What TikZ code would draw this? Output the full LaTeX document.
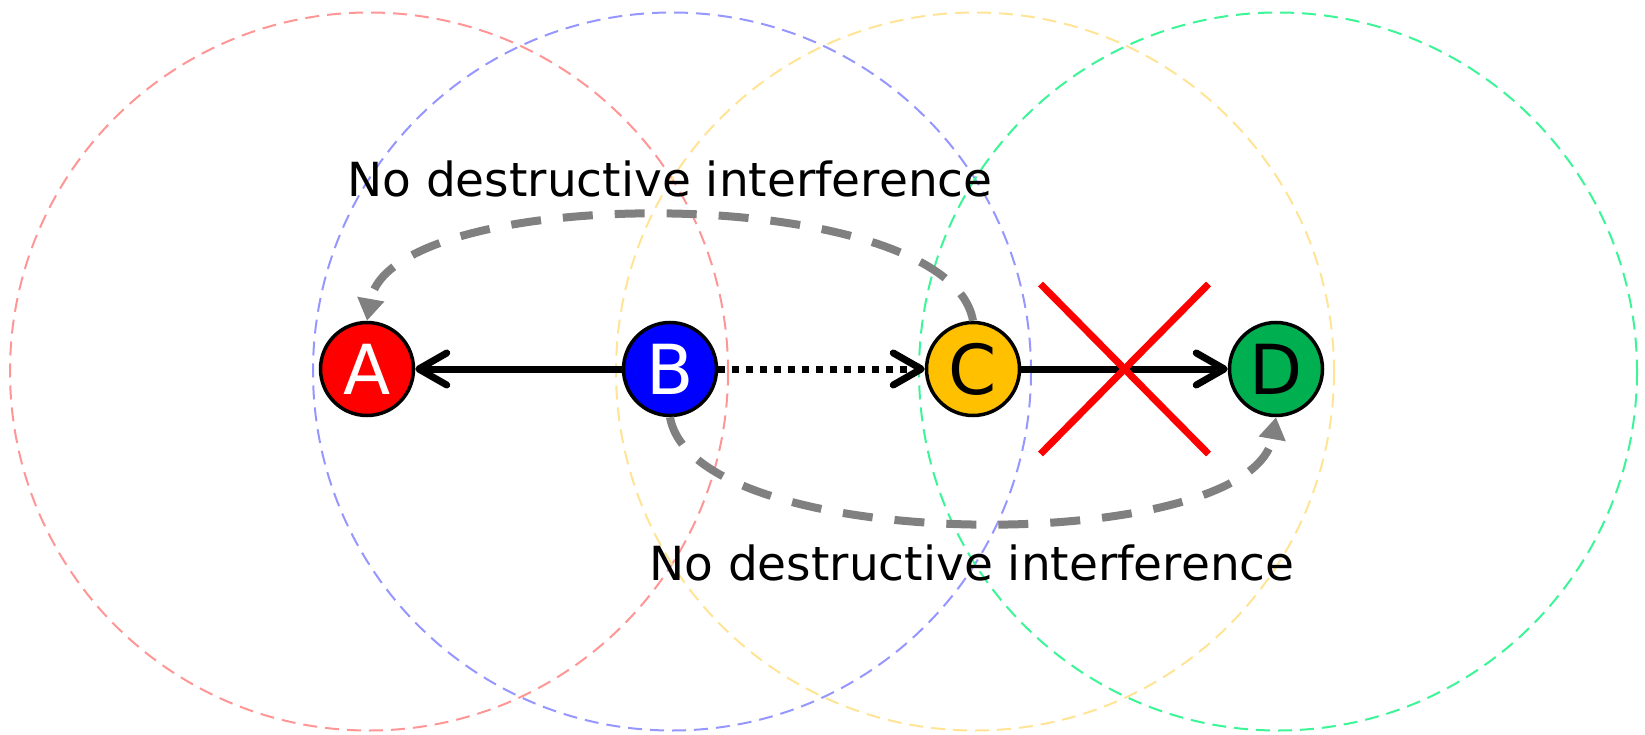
\documentclass[tikz,border=0pt]{standalone}
\usepackage{fontspec}
\setmainfont{DejaVu Sans}
\usetikzlibrary{arrows.meta,calc}
\definecolor{rangeA}{RGB}{255,150,150}
\definecolor{rangeB}{RGB}{150,150,255}
\definecolor{rangeC}{RGB}{255,228,150}
\definecolor{rangeD}{RGB}{60,245,150}
\definecolor{nodeC}{RGB}{255,192,0}
\definecolor{nodeD}{RGB}{0,176,80}
\tikzset{
  station/.style={circle, draw=black, line width=3.5pt, minimum size=93pt,
    inner sep=0pt, font=\fontsize{69}{80}\selectfont},
  rangecircle/.style={line width=2pt, dash pattern=on 14pt off 8pt},
  link/.style={line width=7pt, draw=black,
    -{Straight Barb[length=28pt,width=32pt,line cap=round,line join=round]}},
  dottedlink/.style={link, dash pattern=on 7pt off 7pt},
  interf/.style={line width=8pt, draw=gray, dash pattern=on 30pt off 22pt,
    -{Triangle[length=22pt,width=26pt]}},
  caption/.style={font=\fontsize{47}{56}\selectfont, anchor=base, inner sep=0pt},
  cross/.style={line width=7pt, draw=red}
}
\begin{document}
\begin{tikzpicture}[x=1pt,y=-1pt]
\useasboundingbox (0,0) rectangle (1645,735);

% transmission ranges
\draw[rangecircle, rangeA] (369,371.5) circle (359);
\draw[rangecircle, rangeB] (672,371.5) circle (359);
\draw[rangecircle, rangeC] (975,371.5) circle (359);
\draw[rangecircle, rangeD] (1278,371.5) circle (359);

% stations
\node[station, fill=red, text=white]   (A) at (367,369)  {A};
\node[station, fill=blue, text=white]  (B) at (670,369)  {B};
\node[station, fill=nodeC, text=black] (C) at (973,369)  {C};
\node[station, fill=nodeD, text=black] (D) at (1276,369) {D};

% links
\draw[link] (B) -- (A);
\draw[dottedlink] (B) -- (C);
\draw[link] (C) -- (D);

% blocked link
\coordinate (X) at ($(C)!0.5!(D)$);
\draw[cross] ($(X)+(-84,-85)$) -- ($(X)+(84,85)$);
\draw[cross] ($(X)+(-84,85)$) -- ($(X)+(84,-85)$);

% interference paths
\draw[interf] (C.north) to[out=100,in=80,looseness=0.6] (A.north);
\draw[interf] (B.south) to[out=-80,in=-100,looseness=0.6] (D.south);

% captions
\node[caption] (t1) at (670,197) {No destructive interference};
\node[caption] (t2) at (972,580) {No destructive interference};
\end{tikzpicture}
\end{document}
